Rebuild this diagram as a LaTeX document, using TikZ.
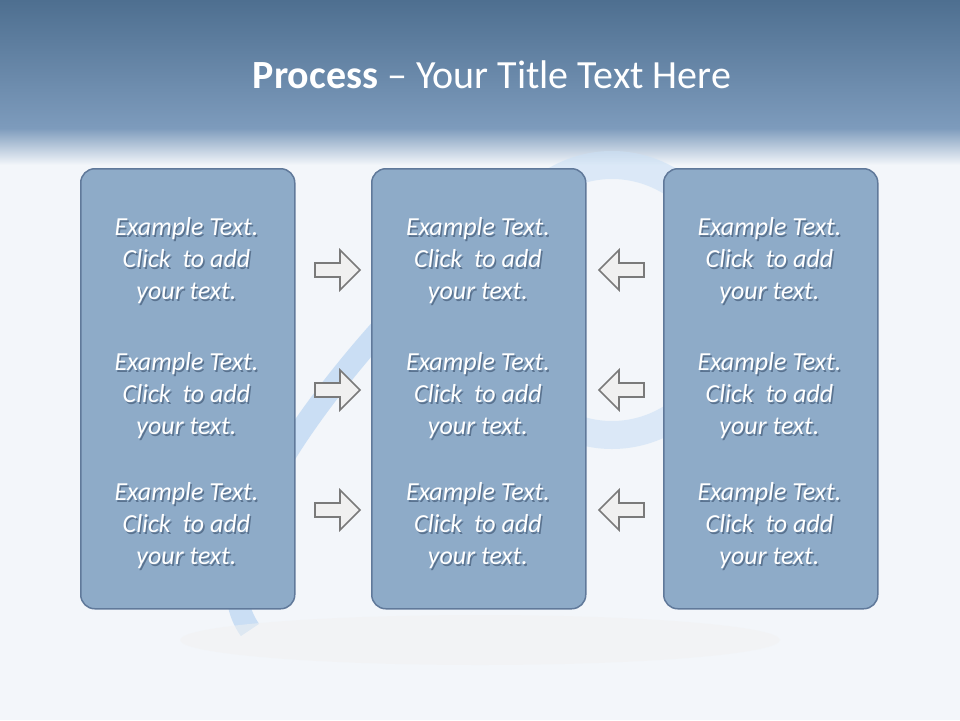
\documentclass[tikz,border=0pt]{standalone}
\usepackage{fontspec}
\setmainfont{Carlito}
\usetikzlibrary{shadows}
\definecolor{boxfill}{HTML}{8EABC8}
\definecolor{boxline}{HTML}{60799A}
\definecolor{topA}{HTML}{4E6F90}
\definecolor{topB}{HTML}{7D9BBC}
\definecolor{bg}{HTML}{F3F6FA}
\definecolor{ring}{HTML}{A9CBEF}
\definecolor{arrfill}{HTML}{F0F0F0}
\definecolor{arrline}{HTML}{7A7A7A}
\definecolor{tshadow}{HTML}{5A7390}
\tikzset{
  panel/.style={draw=boxline, line width=1.5pt, fill=boxfill, rounded corners=14pt, minimum width=214pt, minimum height=440pt, anchor=north west},
  txt/.style={text=white, font=\itshape\fontsize{26}{32}\selectfont, align=center},
  txts/.style={text=tshadow, font=\itshape\fontsize{26}{32}\selectfont, align=center},
  arr/.style={draw=arrline, fill=arrfill, line width=1.6pt, line join=miter}
}
\begin{document}
\begin{tikzpicture}[x=1pt,y=-1pt]
\useasboundingbox (0,0) rectangle (960,720);
\fill[bg] (0,0) rectangle (960,720);
\shade[top color=topA, bottom color=topB] (0,0) rectangle (960,128);
\shade[top color=topB, bottom color=bg] (0,128) rectangle (960,165);
% decorative rings
\draw[ring!60, line width=28pt, opacity=0.6] (612,300) ellipse (122 and 135);
\draw[ring!80, line width=22pt, opacity=0.7] (250,630) .. controls (200,560) and (300,420) .. (380,330);
\fill[gray!10, opacity=0.5] (480,640) ellipse (300 and 25);
\node[text=white, font=\fontsize{40}{46}\selectfont] (title) at (492,75) {\textbf{Process} -- Your Title Text Here};
\node[panel] (L) at (80,168) {};
\node[panel] (M) at (371,168) {};
\node[panel] (R) at (663,168) {};
\foreach \n/\x in {L/186.5, M/478, R/769.5}{
  \foreach \y [count=\i] in {261,396,526}{
    \node[txts] (\n\i s) at (\x+1.5,\y+1.5) {Example Text.\\Click~ to add\\your text.};
    \node[txt] (\n\i) at (\x,\y) {Example Text.\\Click~ to add\\your text.};
  }
}
\foreach \y [count=\i] in {270,390,510}{
  \draw[arr] (315,\y-7) -- (340,\y-7) -- (340,\y-20) -- (360,\y) -- (340,\y+20) -- (340,\y+7) -- (315,\y+7) -- cycle;
  \draw[arr] (644,\y-7) -- (619,\y-7) -- (619,\y-20) -- (599,\y) -- (619,\y+20) -- (619,\y+7) -- (644,\y+7) -- cycle;
}
\end{tikzpicture}
\end{document}
